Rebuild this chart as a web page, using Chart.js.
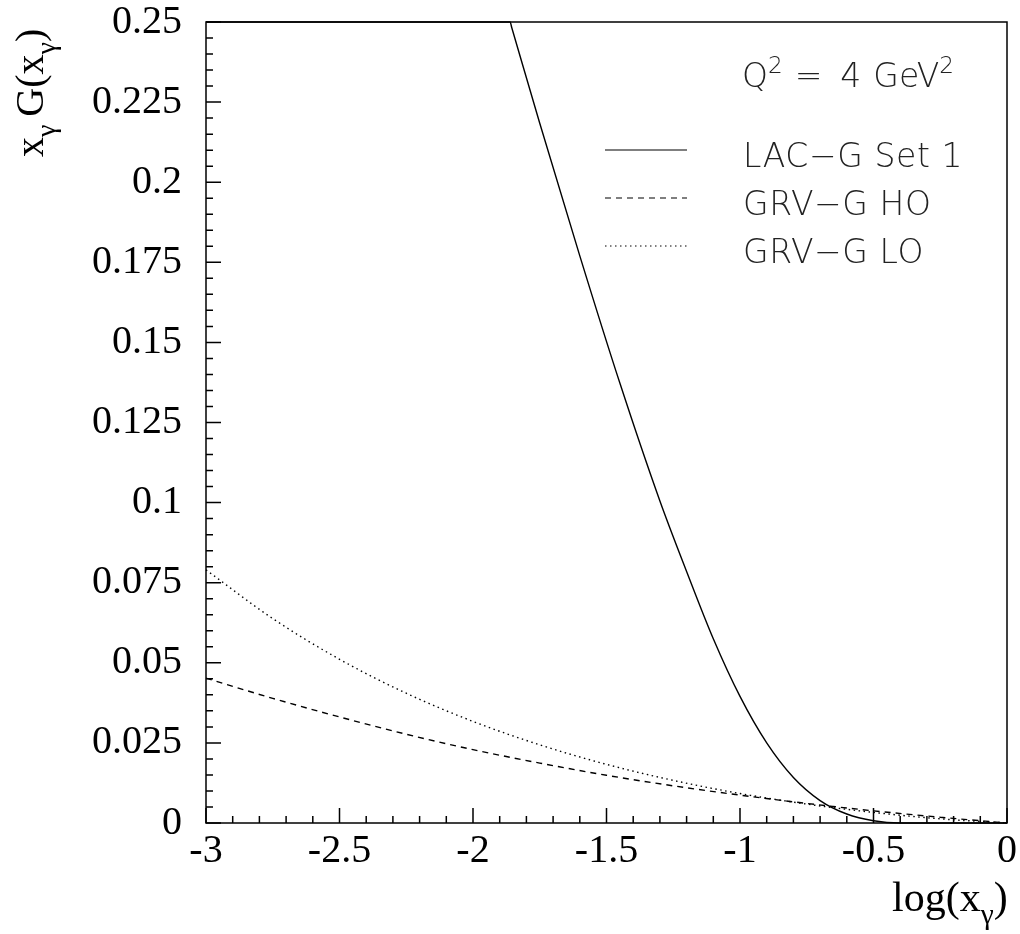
<!DOCTYPE html>
<html>
<head>
<meta charset="utf-8">
<script src="https://cdn.jsdelivr.net/npm/chart.js@4.4.1/dist/chart.umd.min.js"></script>
<style>
  html, body { margin: 0; padding: 0; background: #fff; }
  #wrap { width: 1020px; height: 934px; position: relative; }
</style>
</head>
<body>
<div id="wrap"><canvas id="gluon"></canvas></div>
<script>
// Photon gluon density x G(x) at Q^2 = 4 GeV^2
const lacX = [-3.0, -1.861, -1.855, -1.75, -1.6, -1.45, -1.3, -1.2, -1.1, -1.0, -0.9, -0.8, -0.7, -0.6, -0.5, -0.4, -0.2, 0];
const lacY = [0.25, 0.25, 0.2483, 0.2184, 0.177, 0.1373, 0.1005, 0.0785, 0.0575, 0.0395, 0.025, 0.0142, 0.007, 0.0028, 0.0007, 0.0, 0.0, 0.0];
const hoX = [-3.0, -2.75, -2.5, -2.25, -2.0, -1.75, -1.5, -1.25, -1.0, -0.75, -0.5, -0.25, 0];
const hoY = [0.0452, 0.0389, 0.0331, 0.0277, 0.0229, 0.0187, 0.0149, 0.0116, 0.0087, 0.0061, 0.0038, 0.0018, 0.0];
const loX = [-3.0, -2.75, -2.5, -2.25, -2.0, -1.75, -1.5, -1.25, -1.0, -0.75, -0.5, -0.25, 0];
const loY = [0.079, 0.0638, 0.0511, 0.0405, 0.0317, 0.0244, 0.0183, 0.0133, 0.0092, 0.0059, 0.0033, 0.0013, 0.0];
const seriesNames = ['LAC\u2212G Set 1', 'GRV\u2212G HO', 'GRV\u2212G LO'];
const seriesDash = [[], [6, 5], [1.5, 3.5]];

function pts(xs, ys) { return xs.map((x, i) => ({ x: x, y: ys[i] })); }

// draw a run of text pieces, some of them sub/superscripts
function drawPieces(ctx, pieces, x, y, size, family, weight) {
  pieces.forEach(p => {
    let s = p.sub || p.sup ? size * 0.7 : size,
      dy = p.sub ? size * 0.3 : (p.sup ? -size * 0.42 : 0);
    ctx.font = (weight || 'normal') + ' ' + s + 'px ' + family;
    ctx.fillText(p.t, x, y + dy);
    x += ctx.measureText(p.t).width + (p.gap || 0);
  });
  return x;
}

const serif = "'Liberation Serif', 'Times New Roman', serif",
  sans = "'DejaVu Sans', 'Liberation Sans', sans-serif";

const paperPlugin = {
  id: 'paper',
  afterDatasetsDraw(chart) {
    let ctx = chart.ctx, a = chart.chartArea, xs = chart.scales.x, ys = chart.scales.y;
    ctx.save();
    ctx.strokeStyle = '#000';
    ctx.lineWidth = 1.5;
    ctx.setLineDash([]);
    ctx.strokeRect(a.left, a.top, a.right - a.left, a.bottom - a.top);

    // inward tick marks: minor every 0.1 / 0.005, major every 0.5 / 0.025
    ctx.beginPath();
    for (let i = 0; i <= 30; i++) {
      let px = xs.getPixelForValue(-3 + i * 0.1), len = i % 5 === 0 ? 15 : 7;
      ctx.moveTo(px, a.bottom); ctx.lineTo(px, a.bottom - len);
    }
    for (let i = 0; i <= 50; i++) {
      let py = ys.getPixelForValue(i * 0.005), len = i % 5 === 0 ? 15 : 7;
      ctx.moveTo(a.left, py); ctx.lineTo(a.left + len, py);
    }
    ctx.stroke();

    // in-plot legend
    ctx.fillStyle = '#222';
    ctx.textBaseline = 'alphabetic';
    drawPieces(ctx, [{ t: 'Q' }, { t: '2', sup: true, gap: 12 }, { t: '=', gap: 18 }, { t: '4', gap: 12 }, { t: 'GeV' }, { t: '2', sup: true }], 742, 87, 33, sans, 200);
    ctx.letterSpacing = '0.6px';
    chart.data.datasets.forEach((ds, i) => {
      let ly = 150 + i * 48;
      ctx.strokeStyle = '#000';
      ctx.lineWidth = 1.2;
      ctx.setLineDash(ds.borderDash || []);
      ctx.beginPath(); ctx.moveTo(605, ly); ctx.lineTo(687, ly); ctx.stroke();
      ctx.font = '200 33px ' + sans;
      ctx.fillText(ds.label, 743, ly + 17);
    });
    ctx.letterSpacing = '0px';

    // axis titles with gamma subscripts
    ctx.fillStyle = '#000';
    drawPieces(ctx, [{ t: 'log(x' }, { t: '\u03b3', sub: true }, { t: ')' }], 892, 911, 42, serif);
    ctx.translate(43, 157);
    ctx.rotate(-Math.PI / 2);
    drawPieces(ctx, [{ t: 'x' }, { t: '\u03b3', sub: true, gap: 8 }, { t: 'G(x' }, { t: '\u03b3', sub: true }, { t: ')' }], 0, 0, 40, serif);
    ctx.restore();
  }
};

new Chart(document.getElementById('gluon').getContext('2d'), {
  type: 'line',
  data: {
    datasets: [
      { label: seriesNames[0], data: pts(lacX, lacY), borderDash: seriesDash[0] },
      { label: seriesNames[1], data: pts(hoX, hoY), borderDash: seriesDash[1] },
      { label: seriesNames[2], data: pts(loX, loY), borderDash: seriesDash[2] }
    ]
  },
  options: {
    responsive: true,
    maintainAspectRatio: false,
    animation: false,
    layout: { padding: { left: 0, right: 13, top: 22, bottom: 0 } },
    elements: {
      line: { borderColor: '#000', borderWidth: 1.4, cubicInterpolationMode: 'monotone', fill: false },
      point: { radius: 0, hoverRadius: 0 }
    },
    datasets: { line: { clip: 3 } },
    scales: {
      x: {
        type: 'linear', min: -3, max: 0,
        grid: { display: false, drawTicks: false },
        border: { display: false },
        afterFit: s => { s.height = 111; s.paddingLeft = 0; s.paddingRight = 0; },
        ticks: {
          stepSize: 0.5, padding: 4, color: '#000',
          font: { family: serif, size: 40 },
          maxRotation: 0,
          callback: v => String(+Number(v).toFixed(2))
        }
      },
      y: {
        type: 'linear', min: 0, max: 0.25,
        grid: { display: false, drawTicks: false },
        border: { display: false },
        afterFit: s => { s.width = 206; s.paddingTop = 0; s.paddingBottom = 0; },
        ticks: {
          stepSize: 0.025, padding: 24, color: '#000',
          font: { family: serif, size: 40 },
          callback: v => String(+Number(v).toFixed(3))
        }
      }
    },
    plugins: { legend: { display: false }, tooltip: { enabled: false } }
  },
  plugins: [paperPlugin]
});
</script>
</body>
</html>
